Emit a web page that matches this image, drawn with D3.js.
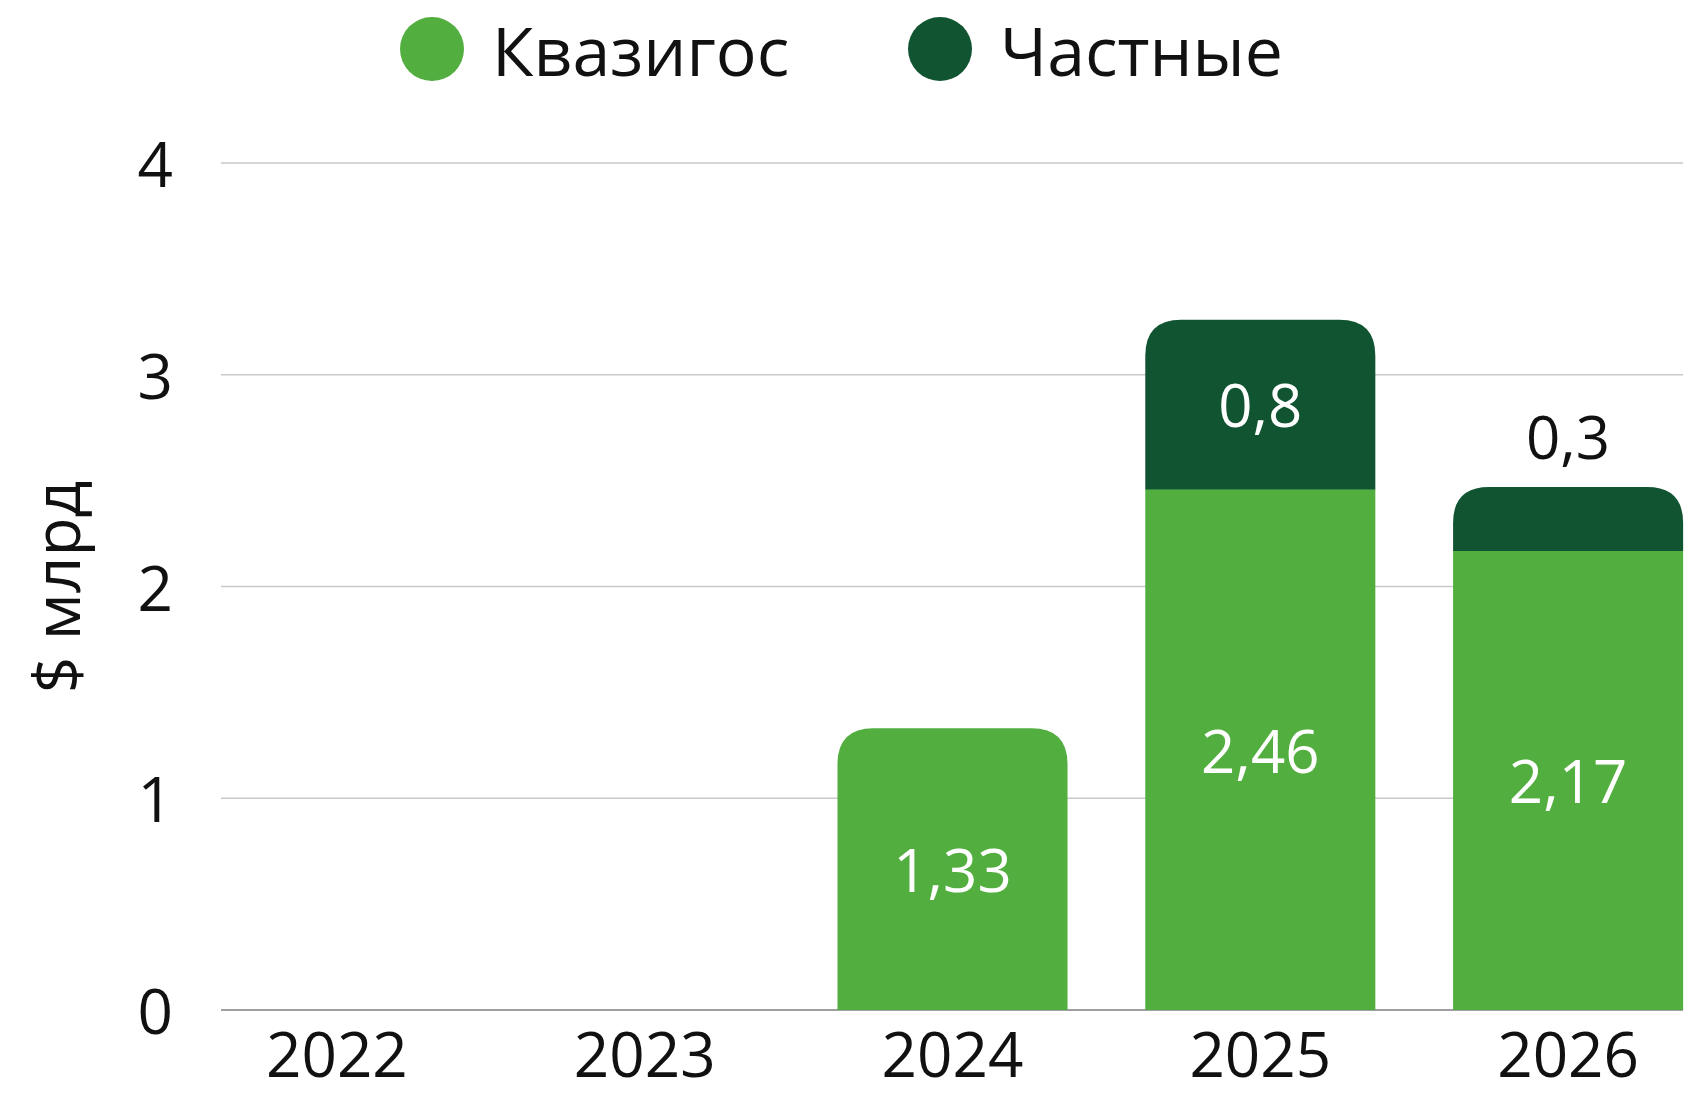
<!DOCTYPE html>
<html>
<head>
<meta charset="utf-8">
<script src="https://cdn.jsdelivr.net/npm/d3@7"></script>
<style>
  body { margin: 0; background: #fff; }
  svg text { font-family: "Open Sans", "Noto Sans", sans-serif; }
</style>
</head>
<body>
<svg id="chart" width="1694" height="1095"></svg>
<script>
// data
var years = ["2022", "2023", "2024", "2025", "2026"];
var quasi = [0, 0, 1.33, 2.46, 2.17];      // Квазигос
var priv = [0, 0, 0, 0.8, 0.3];            // Частные
var quasiLabels = ["", "", "1,33", "2,46", "2,17"];
var privLabels = ["", "", "", "0,8", "0,3"];
var yTicks = [0, 1, 2, 3, 4];
var seriesNames = ["Квазигос", "Частные"];

var lightGreen = "#52ae3f";
var darkGreen = "#115432";

var svg = d3.select("#chart");

var x = d3.scaleBand()
    .domain(years)
    .range([183, 1722])
    .paddingInner(0.2526)
    .paddingOuter(0.1263);

var y = d3.scaleLinear()
    .domain([0, 4])
    .range([1010, 163]);

var gridLeft = 221, gridRight = 1683;

// gridlines
svg.append("g")
    .selectAll("line")
    .data(yTicks)
    .enter()
    .append("line")
    .attr("x1", gridLeft)
    .attr("x2", gridRight)
    .attr("y1", function (d) { return y(d); })
    .attr("y2", function (d) { return y(d); })
    .attr("stroke", function (d) { return d === 0 ? "#7f7f7f" : "#c9c9c9"; })
    .attr("stroke-width", 1.6);

// y tick labels
svg.append("g")
    .selectAll("text")
    .data(yTicks)
    .enter()
    .append("text")
    .attr("x", 173)
    .attr("y", function (d) { return y(d); })
    .attr("text-anchor", "end")
    .attr("dominant-baseline", "central")
    .attr("font-size", 62)
    .attr("fill", "#111")
    .text(function (d) { return d; });

// axis title
svg.append("text")
    .attr("transform", "translate(80,587) rotate(-90)")
    .attr("text-anchor", "middle")
    .attr("font-size", 64)
    .attr("fill", "#111")
    .text("$ млрд");

// rounded-top rectangle
function roundedTop(x0, y0, w, h, r) {
    r = Math.min(r, h, w / 2);
    return "M" + x0 + "," + (y0 + h) +
        "V" + (y0 + r) +
        "Q" + x0 + "," + y0 + " " + (x0 + r) + "," + y0 +
        "H" + (x0 + w - r) +
        "Q" + (x0 + w) + "," + y0 + " " + (x0 + w) + "," + (y0 + r) +
        "V" + (y0 + h) + "Z";
}

var radius = 36;
var bars = svg.append("g");

years.forEach(function (yr, i) {
    var bx = x(yr), bw = x.bandwidth();
    var q = quasi[i], p = priv[i];
    if (q > 0) {
        var top = y(q), h = y(0) - y(q);
        if (p > 0) {
            bars.append("rect")
                .attr("x", bx).attr("y", top)
                .attr("width", bw).attr("height", h)
                .attr("fill", lightGreen);
        } else {
            bars.append("path")
                .attr("d", roundedTop(bx, top, bw, h, radius))
                .attr("fill", lightGreen);
        }
    }
    if (p > 0) {
        var ptop = y(q + p), ph = y(q) - y(q + p);
        bars.append("path")
            .attr("d", roundedTop(bx, ptop, bw, ph + 0.5, radius))
            .attr("fill", darkGreen);
    }
});

// value labels
var labels = svg.append("g").attr("font-size", 60);

years.forEach(function (yr, i) {
    var cx = x(yr) + x.bandwidth() / 2;
    if (quasi[i] > 0) {
        labels.append("text")
            .attr("x", cx)
            .attr("y", (y(0) + y(quasi[i])) / 2)
            .attr("text-anchor", "middle")
            .attr("dominant-baseline", "central")
            .attr("fill", "#fff")
            .text(quasiLabels[i]);
    }
    if (priv[i] > 0) {
        var segH = y(quasi[i]) - y(quasi[i] + priv[i]);
        if (segH > 100) {
            labels.append("text")
                .attr("x", cx)
                .attr("y", (y(quasi[i]) + y(quasi[i] + priv[i])) / 2)
                .attr("text-anchor", "middle")
                .attr("dominant-baseline", "central")
                .attr("fill", "#fff")
                .text(privLabels[i]);
        } else {
            labels.append("text")
                .attr("x", cx)
                .attr("y", y(quasi[i] + priv[i]) - 28)
                .attr("text-anchor", "middle")
                .attr("fill", "#111")
                .text(privLabels[i]);
        }
    }
});

// x labels
svg.append("g")
    .selectAll("text")
    .data(years)
    .enter()
    .append("text")
    .attr("x", function (d) { return x(d) + x.bandwidth() / 2; })
    .attr("y", 1077)
    .attr("text-anchor", "middle")
    .attr("font-size", 62)
    .attr("fill", "#111")
    .text(function (d) { return d; });

// legend
var legendX = [432, 940];
var legendColors = [lightGreen, darkGreen];
var legend = svg.append("g");
seriesNames.forEach(function (name, i) {
    legend.append("circle")
        .attr("cx", legendX[i])
        .attr("cy", 49)
        .attr("r", 32)
        .attr("fill", legendColors[i]);
    legend.append("text")
        .attr("x", legendX[i] + 60)
        .attr("y", 49)
        .attr("dominant-baseline", "central")
        .attr("font-size", 68)
        .attr("fill", "#111")
        .text(name);
});
</script>
</body>
</html>
